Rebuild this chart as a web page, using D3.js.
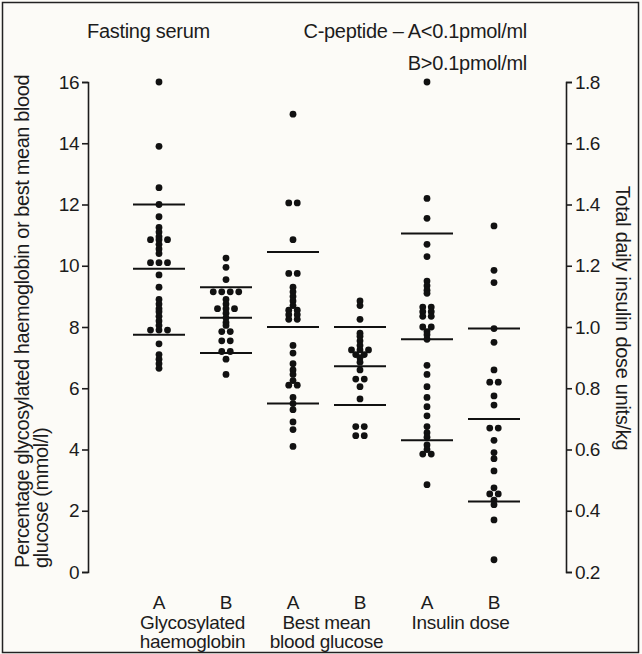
<!DOCTYPE html>
<html>
<head>
<meta charset="utf-8">
<script src="https://cdn.jsdelivr.net/npm/d3@7"></script>
<style>
  body { margin: 0; background: #fcfbf7; }
  svg { display: block; }
  text { font-family: "Liberation Sans", Arial, sans-serif; fill: #1c1c1c; }
</style>
</head>
<body>
<svg id="chart" width="642" height="654"></svg>
<script>
// columns, left to right
var columns = ['glycoA', 'glycoB', 'glucoseA', 'glucoseB', 'insulinA', 'insulinB'];
var columnLetters = ['A', 'B', 'A', 'B', 'A', 'B'];
var groupLabels = [['Glycosylated', 'haemoglobin'], ['Best mean', 'blood glucose'], ['Insulin dose']];

var leftTicks = [0, 2, 4, 6, 8, 10, 12, 14, 16];
var rightTicks = [0.2, 0.4, 0.6, 0.8, 1.0, 1.2, 1.4, 1.6, 1.8];

// glycosylated haemoglobin (%)
var glycoA = [16.0, 13.9, 12.55, 12.0, 11.6, 11.25, 11.1, 10.95, 10.85, 10.85, 10.85, 10.7, 10.55, 10.4,
  10.1, 10.1, 10.1, 9.7, 9.3, 8.9, 8.75, 8.6, 8.5, 8.35, 8.2, 8.05, 7.9, 7.9, 7.9, 7.45, 7.1, 6.95, 6.8, 6.65];
var glycoB = [10.25, 9.95, 9.55, 9.15, 9.15, 9.15, 9.15, 8.9, 8.75, 8.6, 8.6, 8.6, 8.45, 8.3, 8.15, 8.05,
  7.85, 7.85, 7.55, 7.55, 7.2, 7.2, 6.95, 6.45];

// best mean blood glucose (mmol/l)
var glucoseA = [14.95, 12.05, 12.05, 10.85, 9.75, 9.75, 9.3, 9.15, 9.0, 8.85, 8.7, 8.55, 8.55, 8.4, 8.4,
  8.25, 8.25, 7.4, 7.15, 6.8, 6.6, 6.45, 6.25, 6.1, 6.1, 5.7, 5.5, 5.3, 4.9, 4.65, 4.1];
var glucoseB = [8.85, 8.7, 8.25, 7.8, 7.7, 7.55, 7.4, 7.25, 7.25, 7.25, 7.1, 7.1, 7.0, 6.85, 6.6,
  6.3, 6.3, 6.05, 5.65, 4.75, 4.75, 4.45, 4.45];

// total daily insulin dose (units/kg)
var insulinA = [1.80, 1.42, 1.355, 1.27, 1.23, 1.15, 1.135, 1.12, 1.11, 1.065, 1.065, 1.05, 1.05, 1.035, 1.035,
  1.0, 1.0, 0.985, 0.975, 0.96, 0.875, 0.845, 0.805, 0.77, 0.74, 0.71, 0.675, 0.655, 0.64, 0.615, 0.60,
  0.585, 0.585, 0.485];
var insulinB = [1.33, 1.185, 1.145, 0.995, 0.95, 0.86, 0.82, 0.82, 0.775, 0.745, 0.67, 0.67, 0.63, 0.59,
  0.57, 0.53, 0.475, 0.455, 0.455, 0.435, 0.42, 0.37, 0.24];

// lower, mean, upper bars
var glycoAStats = [7.75, 9.9, 12.0];
var glycoBStats = [7.15, 8.3, 9.3];
var glucoseAStats = [5.5, 8.0, 10.45];
var glucoseBStats = [5.45, 6.72, 8.0];
var insulinAStats = [0.63, 0.96, 1.305];
var insulinBStats = [0.43, 0.70, 0.995];

var svg = d3.select('#chart');

var plotTop = 82, plotBottom = 572;

var x = d3.scalePoint().domain(columns).range([159, 494]);
var yLeft = d3.scaleLinear().domain([0, 16]).range([plotBottom, plotTop]);
var yRight = d3.scaleLinear().domain([0.2, 1.8]).range([plotBottom, plotTop]);

var series = [
  { key: 'glycoA', values: glycoA, stats: glycoAStats, y: yLeft },
  { key: 'glycoB', values: glycoB, stats: glycoBStats, y: yLeft },
  { key: 'glucoseA', values: glucoseA, stats: glucoseAStats, y: yLeft },
  { key: 'glucoseB', values: glucoseB, stats: glucoseBStats, y: yLeft },
  { key: 'insulinA', values: insulinA, stats: insulinAStats, y: yRight },
  { key: 'insulinB', values: insulinB, stats: insulinBStats, y: yRight }
];

// frame
svg.append('rect')
  .attr('x', 2.5).attr('y', 2.5)
  .attr('width', 636).attr('height', 650)
  .attr('fill', 'none')
  .attr('stroke', '#222')
  .attr('stroke-width', 1.5);

// axes
var leftAxis = svg.append('g')
  .attr('transform', 'translate(88,0)')
  .call(d3.axisLeft(yLeft).tickValues(leftTicks).tickSize(6).tickPadding(3));

var rightAxis = svg.append('g')
  .attr('transform', 'translate(566,0)')
  .call(d3.axisRight(yRight).tickValues(rightTicks).tickSize(6).tickPadding(3)
    .tickFormat(d3.format('.1f')));

[leftAxis, rightAxis].forEach(function (a) {
  a.selectAll('path, line').attr('stroke', '#1c1c1c').attr('stroke-width', 1.6);
  a.selectAll('text').style('font-size', '19px').attr('fill', '#1c1c1c')
    .style('letter-spacing', '-0.5px');
});

// dots and bars
var dotGap = 8.5;

series.forEach(function (s) {
  var cx = x(s.key);
  var g = svg.append('g').attr('class', 'col-' + s.key);

  var counts = d3.rollup(s.values, function (v) { return v.length; }, function (d) { return d; });
  var seen = new Map();
  var dots = s.values.map(function (v) {
    var n = counts.get(v);
    var i = seen.get(v) || 0;
    seen.set(v, i + 1);
    return { value: v, dx: (i - (n - 1) / 2) * dotGap };
  });

  g.selectAll('line.stat')
    .data(s.stats)
    .enter().append('line')
    .attr('class', 'stat')
    .attr('x1', cx - 26).attr('x2', cx + 26)
    .attr('y1', function (d) { return s.y(d); })
    .attr('y2', function (d) { return s.y(d); })
    .attr('stroke', '#111')
    .attr('stroke-width', 2);

  g.selectAll('circle')
    .data(dots)
    .enter().append('circle')
    .attr('cx', function (d) { return cx + d.dx; })
    .attr('cy', function (d) { return s.y(d.value); })
    .attr('r', 3.4)
    .attr('fill', '#111');
});

// column letters
svg.selectAll('text.letter')
  .data(columns)
  .enter().append('text')
  .attr('class', 'letter')
  .attr('x', function (d) { return x(d); })
  .attr('y', 609)
  .attr('text-anchor', 'middle')
  .style('font-size', '19px')
  .text(function (d, i) { return columnLetters[i]; });

// group labels under each pair
groupLabels.forEach(function (lines, gi) {
  var cx = (x(columns[gi * 2]) + x(columns[gi * 2 + 1])) / 2;
  lines.forEach(function (line, li) {
    svg.append('text')
      .attr('x', cx)
      .attr('y', 629 + li * 19)
      .attr('text-anchor', 'middle')
      .style('font-size', '19px')
      .style('letter-spacing', '-0.3px')
      .text(line);
  });
});

// headings
svg.append('text')
  .attr('x', 87).attr('y', 38)
  .style('font-size', '20px')
  .style('letter-spacing', '-0.3px')
  .text('Fasting serum');

svg.append('text')
  .attr('x', 527).attr('y', 38)
  .attr('text-anchor', 'end')
  .style('font-size', '20px')
  .style('letter-spacing', '-0.3px')
  .text('C-peptide \u2013 A<0.1pmol/ml');

svg.append('text')
  .attr('x', 527).attr('y', 70)
  .attr('text-anchor', 'end')
  .style('font-size', '20px')
  .style('letter-spacing', '-0.3px')
  .text('B>0.1pmol/ml');

// left axis title
var leftTitle = svg.append('g').attr('transform', 'translate(0,568) rotate(-90)');
leftTitle.append('text')
  .attr('x', 0).attr('y', 29)
  .style('font-size', '20px')
  .style('letter-spacing', '-0.4px')
  .text('Percentage glycosylated haemoglobin or best mean blood');
leftTitle.append('text')
  .attr('x', 0).attr('y', 48)
  .style('font-size', '20px')
  .style('letter-spacing', '-0.4px')
  .text('glucose (mmol/l)');

// right axis title
svg.append('text')
  .attr('transform', 'translate(616,318) rotate(90)')
  .attr('text-anchor', 'middle')
  .style('font-size', '20px')
  .style('letter-spacing', '-0.3px')
  .text('Total daily insulin dose units/kg');
</script>
</body>
</html>
